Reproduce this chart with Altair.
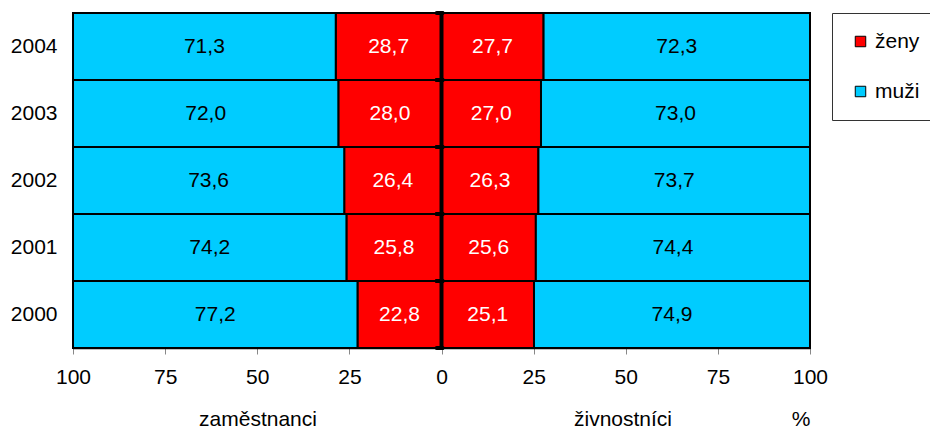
import altair as alt
import pandas as pd

years = ["2004", "2003", "2002", "2001", "2000"]
zam_zeny = [28.7, 28.0, 26.4, 25.8, 22.8]
zam_muzi = [71.3, 72.0, 73.6, 74.2, 77.2]
ziv_zeny = [27.7, 27.0, 26.3, 25.6, 25.1]
ziv_muzi = [72.3, 73.0, 73.7, 74.4, 74.9]
series = ["ženy", "muži"]
colors = ["#FF0000", "#00CCFF"]
tick_values = [-100, -75, -50, -25, 0, 25, 50, 75, 100]

rows = []
for i, y in enumerate(years):
    rows.append(dict(year=y, sex="ženy", start=0, end=-zam_zeny[i], val=zam_zeny[i]))
    rows.append(dict(year=y, sex="muži", start=-zam_zeny[i], end=-zam_zeny[i] - zam_muzi[i], val=zam_muzi[i]))
    rows.append(dict(year=y, sex="ženy", start=0, end=ziv_zeny[i], val=ziv_zeny[i]))
    rows.append(dict(year=y, sex="muži", start=ziv_zeny[i], end=ziv_zeny[i] + ziv_muzi[i], val=ziv_muzi[i]))
df = pd.DataFrame(rows)
df["mid"] = (df["start"] + df["end"]) / 2
df["label"] = df["val"].map(lambda v: f"{v:.1f}".replace(".", ","))
df["tcolor"] = df["sex"].map({"ženy": "white", "muži": "black"})

W, H = 737, 335
FONT = "Liberation Sans"
FS = 21

xscale = alt.Scale(domain=[-100, 100], nice=False, zero=False)
yscale = alt.Scale(paddingInner=0, paddingOuter=0)
yenc = alt.Y("year:N", sort=years, scale=yscale,
             axis=alt.Axis(title=None, ticks=False, domain=False, labelFontSize=FS,
                           labelFont=FONT, labelColor="black", labelPadding=16))

base = alt.Chart(df)

bars = base.mark_bar(stroke="#000000", strokeWidth=2, strokeOpacity=1).encode(
    x=alt.X("start:Q", scale=xscale,
            axis=alt.Axis(values=tick_values, labelExpr="abs(datum.value)", title=None,
                          grid=False, domainColor="black", domainWidth=1.5,
                          tickColor="#888888", tickSize=6, labelFontSize=FS,
                          labelFont=FONT, labelColor="black", labelPadding=12,
                          labelFlush=False)),
    x2="end:Q",
    y=yenc,
    color=alt.Color("sex:N", scale=alt.Scale(domain=series, range=colors),
                    legend=alt.Legend(title=None, orient="none", legendX=759, legendY=0,
                                      symbolType="square", symbolSize=110,
                                      symbolStrokeColor="black", symbolStrokeWidth=1,
                                      labelFontSize=FS, labelFont=FONT, labelColor="black",
                                      rowPadding=28, padding=18, strokeColor="#333333",
                                      fillColor="white", symbolOffset=0, labelOffset=4)),
)

texts = base.mark_text(fontSize=FS, font=FONT).encode(
    x=alt.X("mid:Q", scale=xscale),
    y=alt.Y("year:N", sort=years, scale=yscale),
    text="label:N",
    color=alt.Color("tcolor:N", scale=None),
)

center = alt.Chart(pd.DataFrame({"z": [0]})).mark_rule(color="black", strokeWidth=4).encode(
    x=alt.X("z:Q", scale=xscale), y=alt.value(-2), y2=alt.value(H + 2)
)

ydf = pd.DataFrame({"year": years, "a": [-1.3] * 5, "b": [0.3] * 5})
tick_top = alt.Chart(ydf).mark_rule(color="black", strokeWidth=4, strokeCap="round").encode(
    x=alt.X("a:Q", scale=xscale), x2="b:Q",
    y=alt.Y("year:N", sort=years, scale=yscale, bandPosition=0),
)
tick_bot = alt.Chart(ydf).mark_rule(color="black", strokeWidth=4, strokeCap="round").encode(
    x=alt.X("a:Q", scale=xscale), x2="b:Q",
    y=alt.Y("year:N", sort=years, scale=yscale, bandPosition=1),
)

def title_text(txt, xpos):
    return alt.Chart(pd.DataFrame({"t": [txt]})).mark_text(
        fontSize=FS, font=FONT, color="black", baseline="alphabetic").encode(
        x=alt.value(xpos), y=alt.value(413), text="t:N")

t1 = title_text("zaměstnanci", 185)
t2 = title_text("živnostníci", 550)
t3 = title_text("%", 728)

chart = alt.layer(bars, texts, center, tick_top, tick_bot, t1, t2, t3).properties(
    width=W, height=H,
    autosize=alt.AutoSizeParams(type="none"),
    padding={"left": 65, "top": 5, "right": 120, "bottom": 84},
).configure_view(stroke=None).configure_scale(bandPaddingInner=0, bandPaddingOuter=0
).configure(background="white")

chart.save("out.html", embed_options={"renderer": "svg", "actions": False})
